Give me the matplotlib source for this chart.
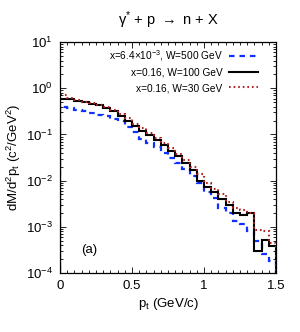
import numpy as np
import matplotlib
matplotlib.use("Agg")
import matplotlib.pyplot as plt
from matplotlib.ticker import MultipleLocator, LogLocator, NullFormatter

plt.rcParams['font.family'] = ['Liberation Sans', 'DejaVu Sans']
plt.rcParams['mathtext.fontset'] = 'custom'
plt.rcParams['mathtext.rm'] = 'Liberation Sans'
plt.rcParams['mathtext.it'] = 'Liberation Sans:italic'

# bin edges in p_t (GeV/c)
pt_edges = np.linspace(0.0, 1.5, 31)

# x=6.4e-3, W=500 GeV
w500 = [0.389, 0.372, 0.347, 0.316, 0.295, 0.269, 0.251, 0.219, 0.191, 0.145,
        0.112, 0.0794, 0.066, 0.0525, 0.0398, 0.0316, 0.024, 0.0178, 0.0126, 0.0089,
        0.0056, 0.0042, 0.0025, 0.0020, 0.0013, 0.00112, 0.00079, 0.0005, 0.00026, 0.000178]
# x=0.16, W=100 GeV
w100 = [0.575, 0.589, 0.537, 0.50, 0.468, 0.427, 0.38, 0.32, 0.251, 0.20,
        0.151, 0.12, 0.0955, 0.0759, 0.0589, 0.0437, 0.0339, 0.024, 0.0166, 0.010,
        0.0071, 0.0056, 0.0039, 0.0030, 0.0020, 0.0018, 0.0020, 0.0003, 0.00052, 0.00039]
# x=0.16, W=30 GeV
w30 = [0.708, 0.631, 0.562, 0.513, 0.479, 0.437, 0.389, 0.339, 0.282, 0.224,
       0.17, 0.135, 0.107, 0.085, 0.066, 0.050, 0.038, 0.028, 0.020, 0.014,
       0.0089, 0.0066, 0.0050, 0.0035, 0.0025, 0.0023, 0.0020, 0.00085, 0.00079, 0.00045]

labels = [r'x=6.4$\times$10$^{-3}$, W=500 GeV', 'x=0.16, W=100 GeV', 'x=0.16, W=30 GeV']

fig = plt.figure(figsize=(3.0, 3.32), dpi=100)
ax = fig.add_axes([0.2, 0.178, 0.72, 0.695])

ax.stairs(w500, pt_edges, color='#1030ff', lw=1.6, ls=(0, (2.5, 2.2)), label=labels[0])
ax.stairs(w100, pt_edges, color='black', lw=1.5, label=labels[1])
ax.stairs(w30, pt_edges, color='#b02525', lw=1.5, ls=(0, (0.8, 1.4)), label=labels[2])

ax.set_yscale('log')
ax.set_xlim(0, 1.5)
ax.set_ylim(1e-4, 10)
ax.xaxis.set_major_locator(MultipleLocator(0.5))
ax.xaxis.set_minor_locator(MultipleLocator(0.05))
ax.yaxis.set_major_locator(LogLocator(base=10, numticks=10))
ax.yaxis.set_minor_locator(LogLocator(base=10, subs=np.arange(2, 10), numticks=20))
ax.yaxis.set_minor_formatter(NullFormatter())
ax.xaxis.set_major_formatter(plt.FuncFormatter(lambda v, p: '%g' % v))
ax.tick_params(which='both', direction='in', top=True, right=True, labelsize=9.5, width=0.6)
ax.tick_params(which='major', length=4, pad=5)
ax.tick_params(which='minor', length=2)
for s in ax.spines.values():
    s.set_linewidth(0.9)

ax.set_xlabel(r'p$_\mathregular{t}$ (GeV/c)', fontsize=9.5, labelpad=3)
ax.set_ylabel(r'dM/d$^\mathregular{2}$p$_\mathregular{t}$ (c$^\mathregular{2}$/GeV$^\mathregular{2}$)', fontsize=9.5, labelpad=2)
ax.set_title('γ$^\\mathregular{*}$ + p $\\rightarrow$ n + X', fontsize=10.5, pad=12)
ax.text(0.1, 0.085, '(a)', transform=ax.transAxes, fontsize=9.5)

ax.legend(loc='upper right', bbox_to_anchor=(0.95, 1.005), frameon=False, markerfirst=False,
          fontsize=7.3, handlelength=2.9, handletextpad=0.6, labelspacing=0.5, borderaxespad=0.3)

fig.savefig('out.png', dpi=100)
